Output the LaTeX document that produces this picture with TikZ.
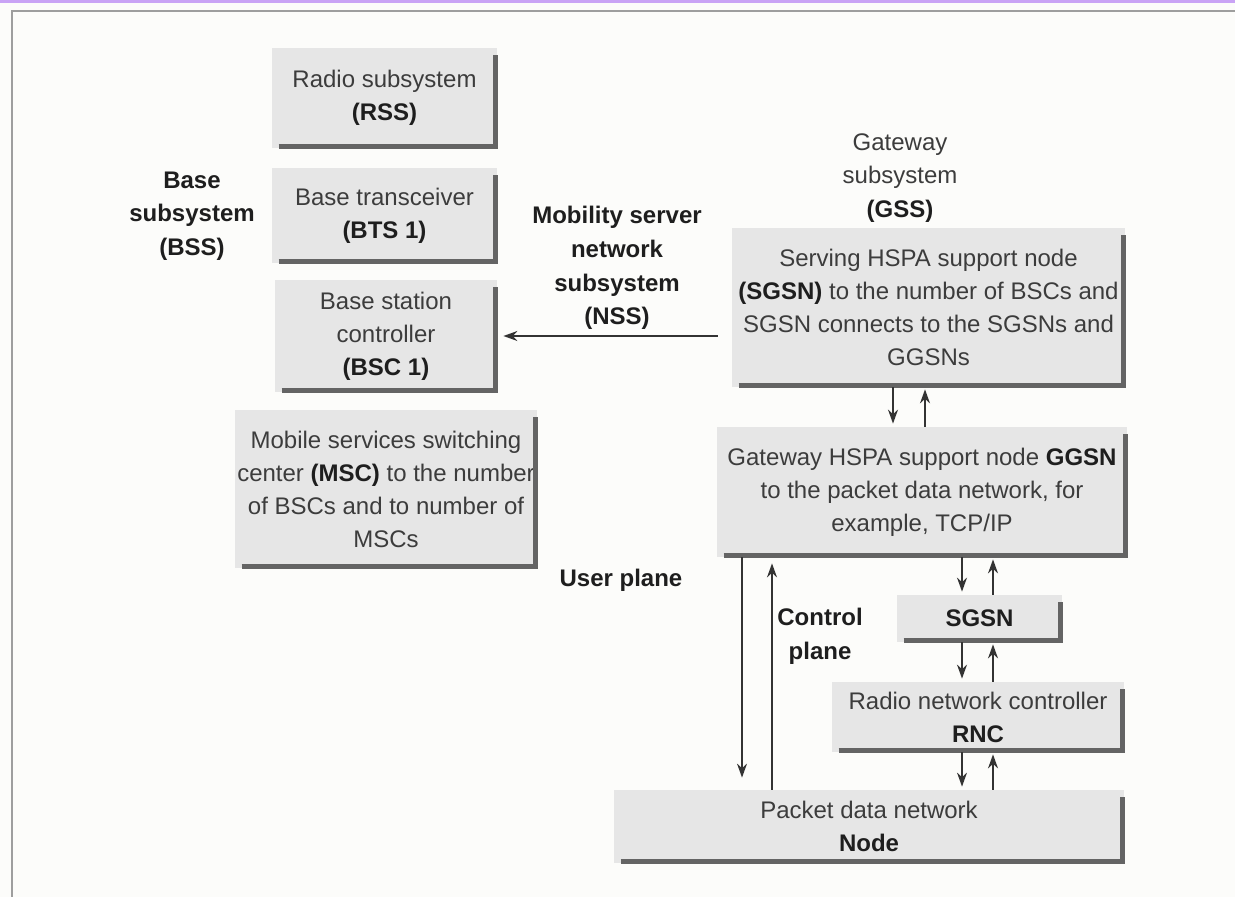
\documentclass[tikz,border=0pt]{standalone}
\usepackage{fontspec}
\setmainfont{Liberation Sans}
\usetikzlibrary{arrows.meta,calc}
\definecolor{boxfill}{HTML}{E6E6E6}
\definecolor{shadowc}{HTML}{646464}
\definecolor{txt}{HTML}{3C3C3C}
\definecolor{lblc}{HTML}{1E1E1E}
\definecolor{bg}{HTML}{FCFCFA}
\definecolor{purp}{HTML}{C9A3F5}
\definecolor{framec}{HTML}{9E9E9E}
\definecolor{linec}{HTML}{333333}
\newcommand\hb[1]{\textbf{\color{lblc}#1}}
\begin{document}
\begin{tikzpicture}[x=0.5pt,y=-0.5pt,
  pxsize/.style 2 args={minimum width=#1*0.5pt, minimum height=#2*0.5pt},
  box/.style={fill=boxfill, draw=none, inner sep=0pt, align=center, text=txt,
    font=\fontsize{12}{16.5}\selectfont},
  lbl/.style={align=center, text=lblc, inner sep=0pt,
    font=\bfseries\fontsize{12}{16.8}\selectfont},
  plain/.style={align=center, text=txt, inner sep=0pt,
    font=\fontsize{12}{16.8}\selectfont},
  arr/.style={draw=linec, line width=0.7pt, -{Stealth[length=7pt,width=5pt]}},
  shade/.style={draw=shadowc, line width=2.2pt}]
% background and frame
\useasboundingbox (0,0) rectangle (1235,897);
\fill[bg] (0,0) rectangle (1235,897);
\fill[purp] (0,0) rectangle (1235,3.5);
\draw[framec, line width=1pt] (12,897) -- (12,11) -- (1235,11);

% boxes
\node[box, pxsize={225}{100}] (rss)  at (384.5,98)   {Radio subsystem\\\hb{(RSS)}};
\node[box, pxsize={225}{95}]  (bts)  at (384.5,215.5) {Base transceiver\\\hb{(BTS 1)}};
\node[box, pxsize={222}{112}] (bsc)  at (386,336)    {Base station\\controller\\\hb{(BSC 1)}};
\node[box, pxsize={302}{158}] (msc)  at (386,489)    {Mobile services switching\\center \hb{(MSC)} to the number\\of BSCs and to number of\\MSCs};
\node[box, pxsize={393}{159}] (sgsnA) at (928.5,307.5) {Serving HSPA support node\\\hb{(SGSN)} to the number of BSCs and\\SGSN connects to the SGSNs and\\GGSNs};
\node[box, pxsize={410}{130}] (ggsn) at (922,492)    {Gateway HSPA support node \hb{GGSN}\\to the packet data network, for\\example, TCP/IP};
\node[box, pxsize={165}{47}]  (sgsnB) at (979.5,618.5) {\hb{SGSN}};
\node[box, pxsize={292}{70}]  (rnc)  at (978,717)    {Radio network controller\\\hb{RNC}};
\node[box, pxsize={510}{73}]  (pdn)  at (869,826.5)  {Packet data network\\\hb{Node}};

% shadows
\foreach \n in {rss,bts,bsc,msc,sgsnA,ggsn,sgsnB,rnc,pdn}{
  \draw[shade] ([xshift=3.5pt,yshift=1pt]\n.south west) -- ([xshift=-1pt,yshift=1pt]\n.south east) -- ([xshift=-1pt,yshift=-3.5pt]\n.north east);
}

% labels
\node[lbl] (bss) at (192,216) {Base\\subsystem\\(BSS)};
\node[lbl] (nss) at (617,268) {Mobility server\\network\\subsystem\\(NSS)};
\node[plain] (gss) at (900,178) {Gateway\\subsystem\\\hb{(GSS)}};
\node[lbl] (user) at (621,580) {User plane};
\node[lbl] (ctrl) at (820,636) {Control\\plane};

% helper coordinates
\coordinate (nssy) at (0,336);
\coordinate (p1) at (893,0);
\coordinate (p2) at (925,0);
\coordinate (q1) at (962,0);
\coordinate (q2) at (993,0);
\coordinate (l1) at (742,0);
\coordinate (l2) at (772,0);

% connectors
\draw[arr] ([xshift=-7pt]sgsnA.west |- nssy) -- ([xshift=3pt]bsc.east |- nssy);
\draw[arr, shorten >=1.5pt] (sgsnA.south -| p1) -- (ggsn.north -| p1);
\draw[arr, shorten >=1pt] (ggsn.north -| p2) -- (sgsnA.south -| p2);
\draw[arr, shorten >=1.5pt] (ggsn.south -| q1) -- (sgsnB.north -| q1);
\draw[arr, shorten >=1pt] (sgsnB.north -| q2) -- (ggsn.south -| q2);
\draw[arr, shorten >=1.5pt] (sgsnB.south -| q1) -- (rnc.north -| q1);
\draw[arr, shorten >=1pt] (rnc.north -| q2) -- (sgsnB.south -| q2);
\draw[arr, shorten >=1.5pt] (rnc.south -| q1) -- (pdn.north -| q1);
\draw[arr, shorten >=1pt] (pdn.north -| q2) -- (rnc.south -| q2);
\draw[arr, shorten >=6pt] (ggsn.south -| l1) -- (pdn.north -| l1);
\draw[arr, shorten >=3pt] (pdn.north -| l2) -- (ggsn.south -| l2);
\end{tikzpicture}
\end{document}
